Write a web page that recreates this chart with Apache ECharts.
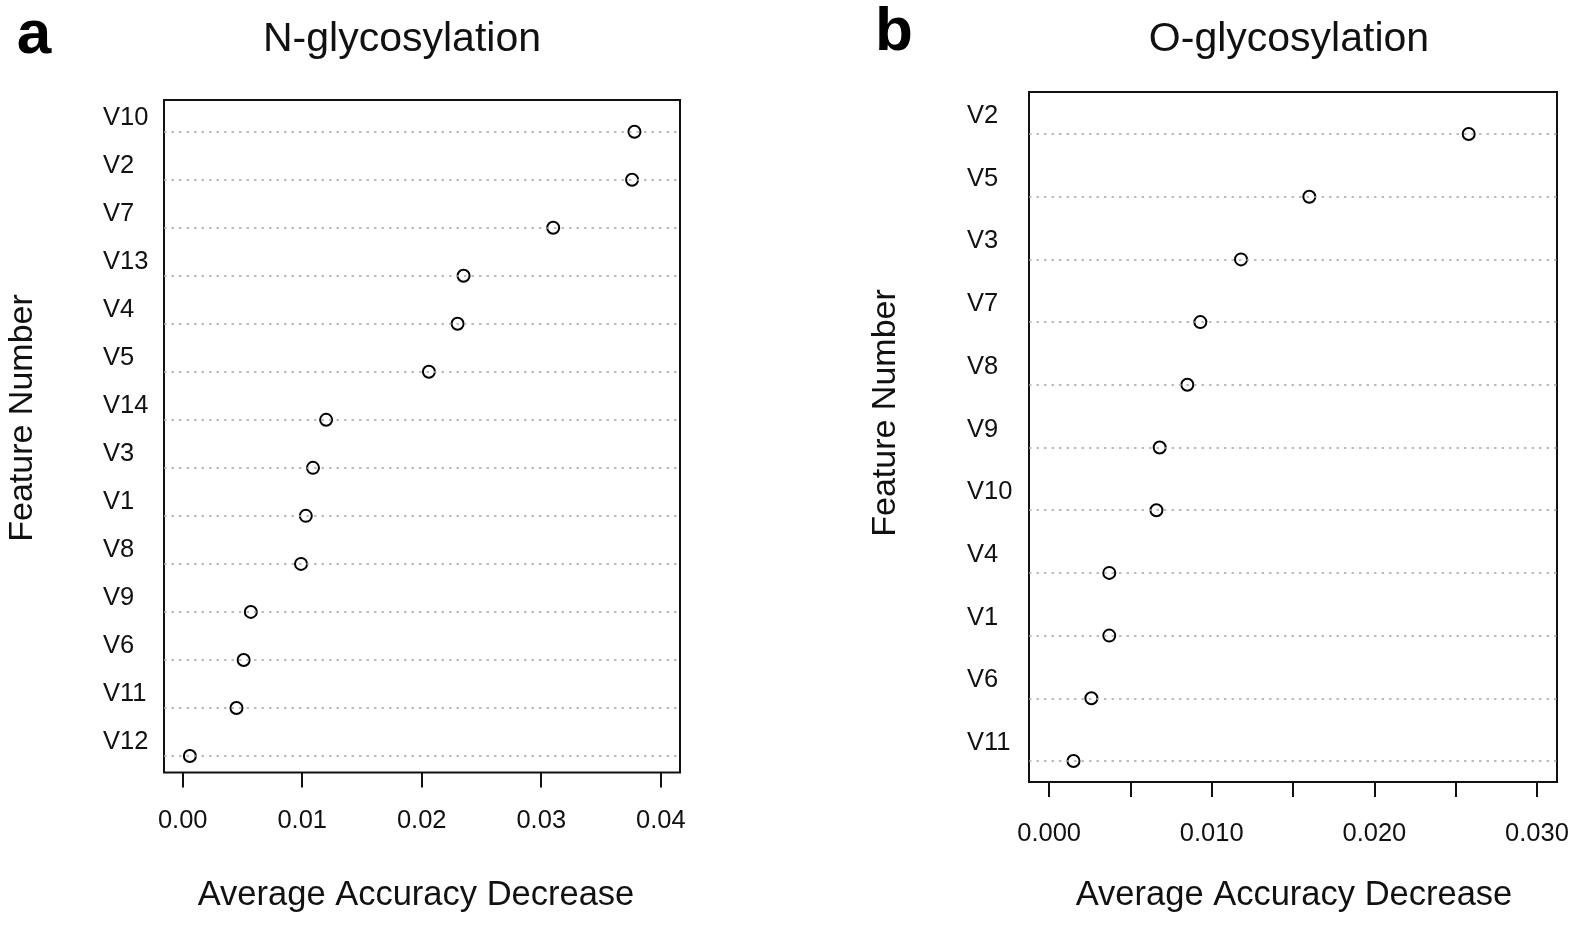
<!DOCTYPE html>
<html>
<head>
<meta charset="utf-8">
<script src="https://cdn.jsdelivr.net/npm/echarts@6/dist/echarts.min.js"></script>
<style>
html,body{margin:0;padding:0;background:#fff;}
#c{width:1575px;height:925px;}
</style>
</head>
<body>
<div id="c"></div>
<script>
// ---- data ----
const nLabels = ['V10','V2','V7','V13','V4','V5','V14','V3','V1','V8','V9','V6','V11','V12'];
const nValues = [0.0378,0.0376,0.0310,0.0235,0.0230,0.0206,0.0120,0.0109,0.0103,0.0099,0.0057,0.0051,0.0045,0.0006];
const oLabels = ['V2','V5','V3','V7','V8','V9','V10','V4','V1','V6','V11'];
const oValues = [0.0258,0.0160,0.0118,0.0093,0.0085,0.0068,0.0066,0.0037,0.0037,0.0026,0.0015];
const nTicks = [0, 0.01, 0.02, 0.03, 0.04];
const oTicks = [0, 0.005, 0.010, 0.015, 0.020, 0.025, 0.030];
const oTickLabels = [0, 0.010, 0.020, 0.030];

const FONT = '"Liberation Sans", Arial, Helvetica, sans-serif';
const chart = echarts.init(document.getElementById('c'), null, {renderer:'canvas'});

function rows(labels){ const n = labels.length; return labels.map((_, i) => n - i); }
function pts(labels, values){ const r = rows(labels); return values.map((v, i) => [v, r[i]]); }

function yAxis(gridIndex, labels, margin, pad){
  const n = labels.length;
  return {
    type:'value', gridIndex, min: 1 - (gridIndex===0?0.344:0.335), max: n + (gridIndex===0?0.66:0.67),
    axisLine:{show:false}, axisTick:{show:false}, splitLine:{show:false},
    axisLabel:{
      customValues: rows(labels),
      formatter: v => labels[n - Math.round(v)],
      align:'left', margin: margin, verticalAlign:'bottom', padding:[0,0,pad,0],
      fontFamily: FONT, fontSize: 25.5, color:'#111'
    }
  };
}
function xAxis(gridIndex, min, max, ticks, tickLabels, dec, margin){
  return {
    type:'value', gridIndex, min, max,
    axisLine:{show:false},
    axisTick:{show:true, customValues: ticks, length: 15, lineStyle:{color:'#111', width:2}},
    axisLabel:{customValues: tickLabels, formatter: v => v.toFixed(dec), margin: margin,
      fontFamily: FONT, fontSize: 25.5, color:'#111'},
    splitLine:{show:false}
  };
}
function lineSeries(idx, labels){
  return {
    type:'scatter', xAxisIndex: idx, yAxisIndex: idx, data: [], z: 1, silent: true,
    markLine:{ silent:true, symbol:['none','none'], label:{show:false},
      lineStyle:{color:'#a8a8a8', type:[2.5,5], width:1.6},
      animation:false,
      data: rows(labels).map(r => ({yAxis: r})) }
  };
}
function pointSeries(idx, labels, values){
  return {
    type:'scatter', xAxisIndex: idx, yAxisIndex: idx, z: 3,
    data: pts(labels, values), symbol:'circle', symbolSize: 12,
    itemStyle:{color:'#fff', borderColor:'#000', borderWidth:2, opacity:1}
  };
}

const option = {
  animation:false,
  backgroundColor:'#fff',
  grid:[
    {left:164, top:100, width:516, height:672.5, show:true, borderColor:'#111', borderWidth:2, backgroundColor:'transparent'},
    {left:1029, top:92, width:528, height:690, show:true, borderColor:'#111', borderWidth:2, backgroundColor:'transparent'}
  ],
  xAxis:[
    xAxis(0, -0.001565, 0.04161, nTicks, nTicks, 2, 35),
    xAxis(1, -0.001236, 0.03123, oTicks, oTickLabels, 3, 39)
  ],
  yAxis:[
    yAxis(0, nLabels, 61, 1),
    yAxis(1, oLabels, 62, 5)
  ],
  series:[
    lineSeries(0, nLabels), pointSeries(0, nLabels, nValues),
    lineSeries(1, oLabels), pointSeries(1, oLabels, oValues)
  ],
  graphic:[
    {type:'text', x:34, y:36, style:{text:'a', font:'bold 62px '+FONT, fill:'#000', align:'center', verticalAlign:'middle'}},
    {type:'text', x:894, y:33, style:{text:'b', font:'bold 62px '+FONT, fill:'#000', align:'center', verticalAlign:'middle'}},
    {type:'text', x:402, y:40, style:{text:'N-glycosylation', font:'41px '+FONT, fill:'#111', align:'center', verticalAlign:'middle'}},
    {type:'text', x:1289, y:40, style:{text:'O-glycosylation', font:'41px '+FONT, fill:'#111', align:'center', verticalAlign:'middle'}},
    {type:'text', x:23, y:418, rotation:Math.PI/2, style:{text:'Feature Number', font:'34px '+FONT, fill:'#111', align:'center', verticalAlign:'middle'}},
    {type:'text', x:886, y:413, rotation:Math.PI/2, style:{text:'Feature Number', font:'34px '+FONT, fill:'#111', align:'center', verticalAlign:'middle'}},
    {type:'text', x:416, y:895, style:{text:'Average Accuracy Decrease', font:'34.5px '+FONT, fill:'#111', align:'center', verticalAlign:'middle'}},
    {type:'text', x:1294, y:895, style:{text:'Average Accuracy Decrease', font:'34.5px '+FONT, fill:'#111', align:'center', verticalAlign:'middle'}}
  ]
};
chart.setOption(option);
</script>
</body>
</html>
